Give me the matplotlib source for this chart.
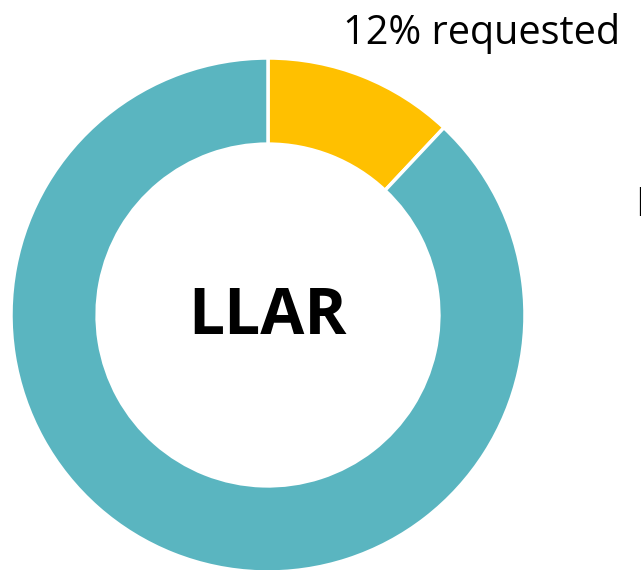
import matplotlib.pyplot as plt

# data
shares = [12, 88]
labels = ['12% requested', 'Not requested']
colors = ['#FFC000', '#5AB5C0']
center_text = 'LLAR'

W, H = 641, 570
fig = plt.figure(figsize=(W / 100, H / 100), dpi=100)
ax = fig.add_axes([0, 0, 1, 1])

cx, cy, r = 268, H - 315, 257
ax.pie(shares, colors=colors, startangle=90, counterclock=False,
       center=(cx, cy), radius=r,
       wedgeprops=dict(width=r * 0.335, edgecolor='white', linewidth=2.5))

ax.set_xlim(0, W)
ax.set_ylim(0, H)
ax.set_aspect('equal')
ax.axis('off')

ax.text(cx, cy - 2, center_text, ha='center', va='center',
        fontsize=46, fontweight='bold', family='Open Sans')
ax.text(343, H - 33, labels[0], ha='left', va='center',
        fontsize=28.5, family='Open Sans')
# label for the teal slice sits mostly outside the picture, as in the reference
ax.text(636, H - 206, labels[1], ha='left', va='center',
        fontsize=28.5, family='Open Sans')

fig.savefig('out.png', dpi=100)
